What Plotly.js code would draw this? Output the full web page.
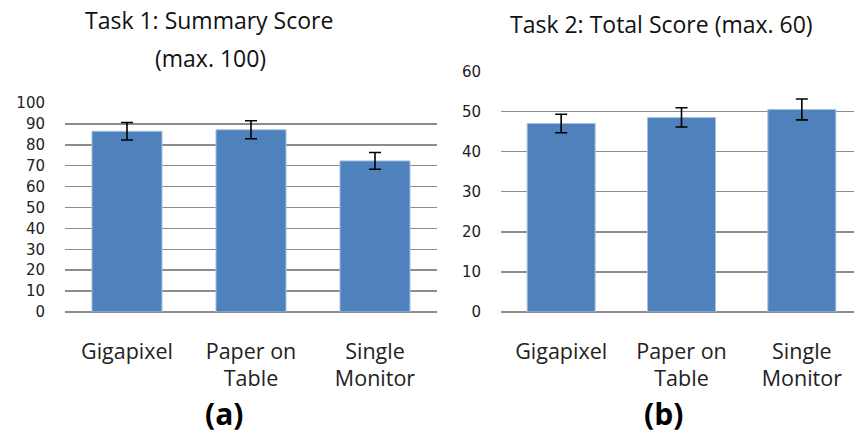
<!DOCTYPE html>
<html>
<head>
<meta charset="utf-8">
<script src="https://cdn.plot.ly/plotly-3.0.1.min.js"></script>
<style>html,body{margin:0;padding:0;background:#fff;}#chart{width:854px;height:436px;}</style>
</head>
<body>
<div id="chart"></div>
<script>
// ---- data ----
const categories = ['Gigapixel', 'Paper on Table', 'Single Monitor'];
const tickLabels = ['Gigapixel', 'Paper on<br>Table', 'Single<br>Monitor'];
const task1Means = [86.5, 87.2, 72.3];
const task1Errors = [4.2, 4.3, 4.0];
const task2Means = [47.0, 48.5, 50.5];
const task2Errors = [2.3, 2.4, 2.6];
const task1Ticks = [0, 10, 20, 30, 40, 50, 60, 70, 80, 90, 100];
const task2Ticks = [0, 10, 20, 30, 40, 50, 60];

const barColor = '#4F81BD';
const barEdge = '#a9c1df';
const gridColor = '#8c8c8c';
const textColor = '#222222';
const catFont = {family: 'Open Sans, sans-serif', size: 21.5, color: textColor};
const numFont = {family: 'DejaVu Sans, sans-serif', size: 15, color: textColor};
const titleFont = {family: 'Open Sans, sans-serif', size: 23, color: '#111111'};

function barTrace(y, err, xa, ya) {
  return {
    type: 'bar', x: categories, y: y, xaxis: xa, yaxis: ya,
    width: 0.565,
    marker: {color: barColor, line: {color: barEdge, width: 1}},
    error_y: {type: 'data', array: err, visible: true, color: '#000000', thickness: 1.6, width: 6},
    hoverinfo: 'none'
  };
}

const data = [
  barTrace(task1Means, task1Errors, 'x', 'y'),
  barTrace(task2Means, task2Errors, 'x2', 'y2')
];

const xBase = {
  type: 'category', tickvals: categories, ticktext: tickLabels,
  tickfont: catFont, showgrid: false, zeroline: false, showline: false,
  ticks: '', ticklabelstandoff: 24, fixedrange: true
};
const yBase = {
  tickfont: numFont, showgrid: true, gridcolor: gridColor, gridwidth: 1.5,
  zeroline: true, zerolinecolor: gridColor, zerolinewidth: 1.5,
  showline: false, ticks: '', ticklabelstandoff: 19, fixedrange: true
};

const layout = {
  width: 854, height: 436,
  margin: {l: 0, r: 0, t: 0, b: 0},
  paper_bgcolor: '#ffffff', plot_bgcolor: '#ffffff',
  showlegend: false,
  xaxis: Object.assign({}, xBase, {domain: [65/854, 437/854], range: [-0.5, 2.5], anchor: 'y'}),
  yaxis: Object.assign({}, yBase, {domain: [124/436, 333/436], range: [0, 100], tickvals: task1Ticks, anchor: 'x'}),
  xaxis2: Object.assign({}, xBase, {domain: [501/854, 1], range: [-0.5, 2.4335], anchor: 'y2'}),
  yaxis2: Object.assign({}, yBase, {domain: [124/436, 364.7/436], range: [0, 60], tickvals: task2Ticks, anchor: 'x2'}),
  annotations: [
    {text: 'Task 1: Summary Score', xref: 'paper', yref: 'paper', x: 209/854, y: 1 - 38/436, xanchor: 'center', yanchor: 'bottom', showarrow: false, font: titleFont},
    {text: '(max. 100)', xref: 'paper', yref: 'paper', x: 210/854, y: 1 - 76/436, xanchor: 'center', yanchor: 'bottom', showarrow: false, font: titleFont},
    {text: 'Task 2: Total Score (max. 60)', xref: 'paper', yref: 'paper', x: 661/854, y: 1 - 42/436, xanchor: 'center', yanchor: 'bottom', showarrow: false, font: titleFont},
    {text: '<b>(a)</b>', xref: 'paper', yref: 'paper', x: 224/854, y: 0, xanchor: 'center', yanchor: 'bottom', showarrow: false, font: {family: 'Open Sans, sans-serif', size: 30, color: '#000000'}},
    {text: '<b>(b)</b>', xref: 'paper', yref: 'paper', x: 663/854, y: 0, xanchor: 'center', yanchor: 'bottom', showarrow: false, font: {family: 'Open Sans, sans-serif', size: 30, color: '#000000'}}
  ]
};

Plotly.newPlot('chart', data, layout, {staticPlot: true, displayModeBar: false});
</script>
</body>
</html>
